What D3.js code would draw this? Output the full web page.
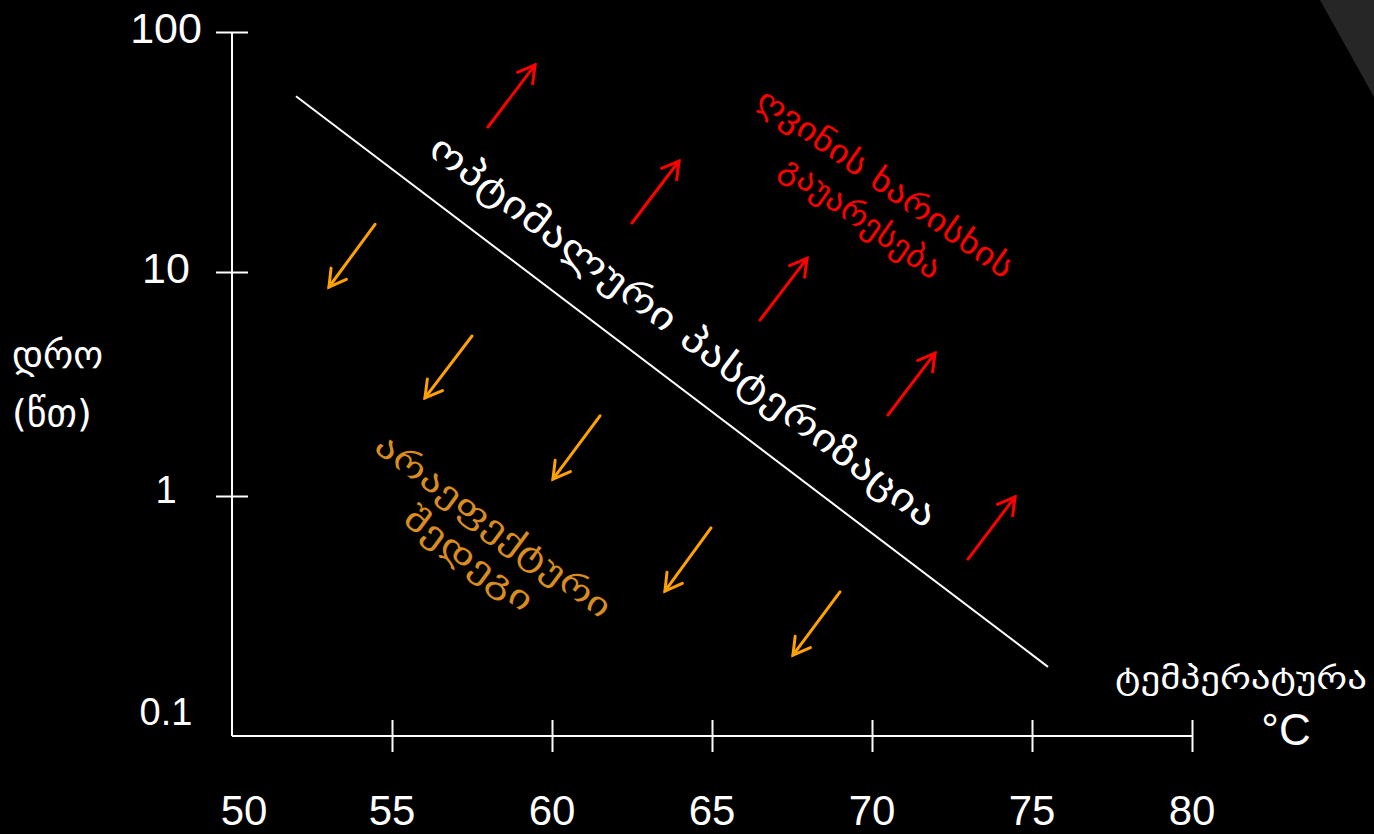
<!DOCTYPE html>
<html>
<head>
<meta charset="utf-8">
<script src="https://cdn.jsdelivr.net/npm/d3@7"></script>
<style>
  html, body { margin: 0; padding: 0; background: #000; }
  svg { display: block; }
</style>
</head>
<body>
<svg id="chart" width="1374" height="834"></svg>
<script>
// ---------------- data ----------------
const xTickLabels = [50, 55, 60, 65, 70, 75, 80];
const xTickMarks = [55, 60, 65, 70, 75, 80];
const yTickLabels = [100, 10, 1, 0.1];
const yTickMarks = [100, 10, 1];

// optimal pasteurization line: [temperature °C, time min]
const optimalLine = [[52, 54], [75.5, 0.17]];

// red arrows (quality deterioration): [t0, time0, t1, time1]
const redArrows = [
  [58.0, 40.2, 59.47, 72.9],
  [62.5, 16.0, 63.97, 29.0],
  [66.5, 6.1, 67.97, 11.4],
  [70.5, 2.30, 71.97, 4.34],
  [73.0, 0.52, 74.47, 0.99]
];
// orange arrows (ineffective result): [t0, time0, t1, time1]
const orangeArrows = [
  [54.47, 15.8, 53.03, 8.57],
  [57.5, 5.18, 56.03, 2.74],
  [61.5, 2.28, 60.03, 1.19],
  [64.97, 0.718, 63.53, 0.373],
  [69.0, 0.37, 67.53, 0.192]
];

const yLabelLines = ["დრო", "(წთ)"];
const xLabelText = "ტემპერატურა";
const xUnitText = "°C";
const optimalText = "ოპტიმალური პასტერიზაცია";
const qualityLines = ["ღვინის ხარისხის", "გაუარესება"];
const ineffectiveLines = ["არაეფექტური", "შედეგი"];

// ---------------- drawing ----------------
const svg = d3.select("#chart");
const W = 1374, H = 834;
svg.append("rect").attr("width", W).attr("height", H).attr("fill", "#000");
// slide decoration in the top right corner
svg.append("polygon").attr("points", "1320,0 1374,0 1374,97").attr("fill", "#262626");

const x = d3.scaleLinear().domain([50, 80]).range([232, 1192]);
const y = d3.scaleLog().domain([0.1, 1, 10, 100]).range([718, 496, 272, 32]);
const axisY = 736;

const numFont = "'Liberation Sans', Arial, sans-serif";
const geoFont = "'DejaVu Sans', sans-serif";

// axes lines
svg.append("line").attr("x1", x(50)).attr("x2", x(50)).attr("y1", y(100)).attr("y2", axisY)
  .attr("stroke", "#fff").attr("stroke-width", 2);
svg.append("line").attr("x1", x(50)).attr("x2", x(80)).attr("y1", axisY).attr("y2", axisY)
  .attr("stroke", "#fff").attr("stroke-width", 2);

// x axis ticks via d3 axis
const xAxis = d3.axisBottom(x).tickValues(xTickMarks).tickSize(16).tickFormat("");
const gx = svg.append("g").attr("transform", `translate(0,${axisY})`).call(xAxis);
gx.select(".domain").remove();
gx.selectAll(".tick line").attr("y1", -16).attr("y2", 16).attr("stroke", "#fff").attr("stroke-width", 2);

svg.selectAll("text.xlab").data(xTickLabels).join("text")
  .attr("class", "xlab")
  .attr("x", d => x(d) + (d === 50 ? 12 : 0)).attr("y", 825)
  .attr("text-anchor", "middle")
  .attr("font-family", numFont).attr("font-size", 42)
  .attr("fill", "#fff").text(d => d);

// y axis ticks via d3 axis
const yAxis = d3.axisLeft(y).tickValues(yTickMarks).tickSize(16).tickFormat("");
const gy = svg.append("g").attr("transform", `translate(${x(50)},0)`).call(yAxis);
gy.select(".domain").remove();
gy.selectAll(".tick line").attr("x1", -16).attr("x2", 16).attr("stroke", "#fff").attr("stroke-width", 2);

svg.selectAll("text.ylab").data(yTickLabels).join("text")
  .attr("class", "ylab")
  .attr("x", 166).attr("y", d => y(d) + (d >= 10 ? 11 : 7))
  .attr("text-anchor", "middle")
  .attr("font-family", numFont).attr("font-size", d => d >= 10 ? 43 : 38)
  .attr("fill", "#fff").text(d => d);

// axis titles
svg.selectAll("text.ytitle").data(yLabelLines).join("text")
  .attr("class", "ytitle")
  .attr("x", 12).attr("y", (d, i) => 368 + i * 58)
  .attr("font-family", geoFont).attr("font-size", 38)
  .attr("fill", "#fff").text(d => d);

svg.append("text").attr("x", 1241).attr("y", 689)
  .attr("text-anchor", "middle")
  .attr("font-family", geoFont).attr("font-size", 31)
  .attr("textLength", 252).attr("lengthAdjust", "spacingAndGlyphs")
  .attr("fill", "#fff").text(xLabelText);
svg.append("text").attr("x", 1286).attr("y", 745)
  .attr("text-anchor", "middle")
  .attr("font-family", numFont).attr("font-size", 44)
  .attr("fill", "#fff").text(xUnitText);

// optimal line
svg.append("path")
  .datum(optimalLine)
  .attr("d", d3.line().x(d => x(d[0])).y(d => y(d[1])))
  .attr("fill", "none").attr("stroke", "#fff").attr("stroke-width", 2);

// arrows
function drawArrows(data, color) {
  const g = svg.append("g").attr("stroke", color).attr("stroke-width", 3)
    .attr("fill", "none").attr("stroke-linecap", "round");
  data.forEach(a => {
    const x0 = x(a[0]), y0 = y(a[1]), x1 = x(a[2]), y1 = y(a[3]);
    const ang = Math.atan2(y0 - y1, x0 - x1);
    const L = 19, spread = Math.PI / 6;
    const p1 = [x1 + L * Math.cos(ang + spread), y1 + L * Math.sin(ang + spread)];
    const p2 = [x1 + L * Math.cos(ang - spread), y1 + L * Math.sin(ang - spread)];
    g.append("path").attr("d", `M${x0},${y0}L${x1},${y1}`);
    g.append("path").attr("d", `M${p1[0]},${p1[1]}L${x1},${y1}L${p2[0]},${p2[1]}`)
      .attr("stroke-linejoin", "miter");
  });
}
drawArrows(redArrows, "#ff0000");
drawArrows(orangeArrows, "#ffa200");

// rotated annotations
function rotatedLines(lines, cx, cy, angle, size, color, lengths, spacing) {
  const g = svg.append("g").attr("transform", `translate(${cx},${cy}) rotate(${angle})`);
  const n = lines.length;
  lines.forEach((t, i) => {
    const off = (i - (n - 1) / 2) * spacing;
    g.append("text")
      .attr("x", 0).attr("y", off + size * 0.28)
      .attr("text-anchor", "middle")
      .attr("font-family", geoFont).attr("font-size", size)
      .attr("textLength", lengths[i]).attr("lengthAdjust", "spacingAndGlyphs")
      .attr("fill", color).text(t);
  });
}
rotatedLines([optimalText], 682, 333, 37, 37, "#fff", [625], 0);
rotatedLines(qualityLines, 872, 202, 35, 32, "#ff0000", [305, 188], 42);
rotatedLines(ineffectiveLines, 480, 544, 36.5, 32, "#d98c1f", [285, 152], 41);
</script>
</body>
</html>
